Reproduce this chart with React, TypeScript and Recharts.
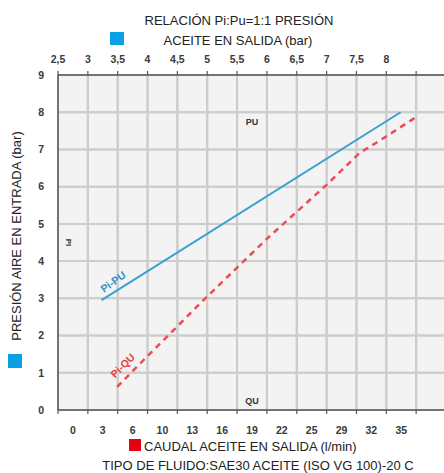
import React from 'react';
import { ComposedChart, Line, XAxis, YAxis, CartesianGrid, ReferenceDot } from 'recharts';

// Top axis: oil outlet pressure (bar)
const pressureTicks = [2.5, 3, 3.5, 4, 4.5, 5, 5.5, 6, 6.5, 7, 7.5, 8, 8.5, 9];
const pressureLabels = ['2,5', '3', '3,5', '4', '4,5', '5', '5,5', '6', '6,5', '7', '7,5', '8', '', ''];
// Bottom axis: oil outlet flow (l/min), labels sit between the ticks
const flowLabels = ['0', '3', '6', '10', '13', '16', '19', '22', '25', '29', '32', '35'];
const flowTicks = pressureTicks.slice(0, flowLabels.length).map((t) => t + 0.25);
// Left axis: air inlet pressure (bar)
const yTicks = [0, 1, 2, 3, 4, 5, 6, 7, 8, 9];

// Pi-PU line
const piPu = [
  { x: 3.23, y: 2.95 },
  { x: 8.24, y: 8.0 },
];
// Pi-QU line
const piQu = [
  { x: 3.49, y: 0.62 },
  { x: 4.0, y: 1.45 },
  { x: 5.0, y: 3.05 },
  { x: 6.0, y: 4.6 },
  { x: 7.0, y: 6.05 },
  { x: 7.55, y: 6.9 },
  { x: 8.0, y: 7.35 },
  { x: 8.48, y: 7.85 },
];

const xMin = pressureTicks[0];
const xMax = pressureTicks[pressureTicks.length - 1];
const yMin = yTicks[0];
const yMax = yTicks[yTicks.length - 1];

// grid segments built from the tick arrays
const verticalGrid = pressureTicks.map((t) => [
  { x: t, y: yMin },
  { x: t, y: yMax },
]);
const horizontalGrid = yTicks.map((t) => [
  { x: xMin, y: t },
  { x: xMax, y: t },
]);

// layout
const CHART_W = 446;
const CHART_H = 473;
const Y_AXIS_W = 58;
const TOP_AXIS_H = 75;
const BOTTOM_TICK_H = 6;
const FLOW_AXIS_H = 57;

const tickFont = "'Liberation Sans Narrow', 'Liberation Sans', Arial, sans-serif";
const textFont = "'Liberation Sans', Arial, sans-serif";
const tickStyle = { fill: '#3a3a3a', fontSize: 10.5, fontWeight: 'bold', fontFamily: tickFont };
const gridColor = '#cdcdcd';

const makeLabel = (text: string, color: string, size: number, angle: number) => (p: any) => (
  <text
    x={p.cx}
    y={p.cy}
    fill={color}
    fontSize={size}
    fontWeight="bold"
    fontFamily={textFont}
    textAnchor="middle"
    dominantBaseline="central"
    transform={`rotate(${angle} ${p.cx} ${p.cy})`}
  >
    {text}
  </text>
);

export default function App() {
  return (
    <div style={{ position: 'absolute', left: 0, top: 0, width: 444, height: 473, overflow: 'hidden', background: '#fff' }}>
      <div
        style={{
          position: 'absolute',
          left: Y_AXIS_W,
          top: TOP_AXIS_H,
          width: CHART_W - Y_AXIS_W,
          height: CHART_H - TOP_AXIS_H - BOTTOM_TICK_H - FLOW_AXIS_H,
          background: '#f3f3f3',
        }}
      />
      <div style={{ position: 'absolute', left: 0, top: 0 }}>
        <ComposedChart width={CHART_W} height={CHART_H} margin={{ top: 0, right: 0, bottom: 0, left: 0 }}>
          <CartesianGrid stroke={gridColor} strokeWidth={2} />
          <XAxis
            xAxisId="top"
            orientation="top"
            dataKey="x"
            type="number"
            domain={[xMin, xMax]}
            allowDataOverflow
            ticks={pressureTicks}
            interval={0}
            height={TOP_AXIS_H}
            tickSize={4}
            tickMargin={8}
            tickFormatter={(v: number, i: number) => pressureLabels[i]}
            tick={tickStyle}
            axisLine={{ stroke: '#555', strokeWidth: 1.5 }}
            tickLine={{ stroke: '#555', strokeWidth: 1.2 }}
          />
          <XAxis
            orientation="bottom"
            dataKey="x"
            type="number"
            domain={[xMin, xMax]}
            allowDataOverflow
            ticks={pressureTicks}
            interval={0}
            height={BOTTOM_TICK_H}
            tickSize={4}
            tickFormatter={() => ''}
            tick={tickStyle}
            axisLine={{ stroke: '#555', strokeWidth: 1.5 }}
            tickLine={{ stroke: '#555', strokeWidth: 1.2 }}
          />
          <XAxis
            xAxisId="flow"
            orientation="bottom"
            dataKey="x"
            type="number"
            domain={[xMin, xMax]}
            allowDataOverflow
            ticks={flowTicks}
            interval={0}
            height={FLOW_AXIS_H}
            tickSize={0}
            tickMargin={11}
            tickFormatter={(v: number, i: number) => flowLabels[i]}
            tick={tickStyle}
            axisLine={false}
            tickLine={false}
          />
          <YAxis
            type="number"
            domain={[yMin, yMax]}
            allowDataOverflow
            ticks={yTicks}
            interval={0}
            width={Y_AXIS_W}
            tickSize={0}
            tickMargin={14}
            tick={tickStyle}
            axisLine={{ stroke: '#555', strokeWidth: 1.5 }}
            tickLine={false}
          />
          {verticalGrid.map((d, i) => (
            <Line key={'v' + i} data={d} dataKey="y" type="linear" stroke={gridColor} strokeWidth={2} dot={false} activeDot={false} isAnimationActive={false} />
          ))}
          {horizontalGrid.map((d, i) => (
            <Line key={'h' + i} data={d} dataKey="y" type="linear" stroke={gridColor} strokeWidth={2} dot={false} activeDot={false} isAnimationActive={false} />
          ))}
          {/* invisible carriers so the top and flow axes get a scale */}
          <Line xAxisId="top" data={piPu} dataKey="y" stroke="none" dot={false} activeDot={false} isAnimationActive={false} />
          <Line xAxisId="flow" data={piPu} dataKey="y" stroke="none" dot={false} activeDot={false} isAnimationActive={false} />
          <Line
            data={piPu}
            dataKey="y"
            type="linear"
            stroke="#3a9fd2"
            strokeWidth={2}
            dot={false}
            isAnimationActive={false}
          />
          <Line
            data={piQu}
            dataKey="y"
            type="linear"
            stroke="#ec4c55"
            strokeWidth={2.5}
            strokeDasharray="6 5"
            dot={false}
            isAnimationActive={false}
          />
          <ReferenceDot x={5.75} y={7.75} r={1} shape={makeLabel('PU', '#333', 9, 0)} />
          <ReferenceDot x={5.75} y={0.24} r={1} shape={makeLabel('QU', '#333', 9, 0)} />
          <ReferenceDot x={2.67} y={4.5} r={1} shape={makeLabel('PI', '#333', 8, 90)} />
          <ReferenceDot x={3.42} y={3.45} r={1} shape={makeLabel('Pi-PU', '#2e8fd0', 10.5, -36)} />
          <ReferenceDot x={3.58} y={1.2} r={1} shape={makeLabel('Pi-QU', '#e8403a', 10.5, -45)} />
        </ComposedChart>
      </div>
      <svg width={444} height={473} style={{ position: 'absolute', left: 0, top: 0, pointerEvents: 'none' }}>
        <text x={239} y={25} textAnchor="middle" fontSize={13} fill="#222" fontFamily={textFont}>
          RELACIÓN Pi:Pu=1:1 PRESIÓN
        </text>
        <rect x={110} y={32} width={14} height={13} fill="#0aa0e6" />
        <text x={238} y={45} textAnchor="middle" fontSize={13} fill="#222" fontFamily={textFont}>
          ACEITE EN SALIDA (bar)
        </text>
        <rect x={129} y={439} width={12} height={12} fill="#e60012" />
        <text x={144} y={451} textAnchor="start" fontSize={13} fill="#222" fontFamily={textFont}>
          CAUDAL ACEITE EN SALIDA (l/min)
        </text>
        <text x={258} y={470} textAnchor="middle" fontSize={13} fill="#222" fontFamily={textFont}>
          TIPO DE FLUIDO:SAE30 ACEITE (ISO VG 100)-20 C
        </text>
        <rect x={8} y={354} width={14} height={14} fill="#0aa0e6" />
        <text x={21} y={236} textAnchor="middle" fontSize={13} fill="#222" fontFamily={textFont} transform="rotate(-90 21 236)">
          PRESIÓN AIRE EN ENTRADA (bar)
        </text>
      </svg>
    </div>
  );
}
